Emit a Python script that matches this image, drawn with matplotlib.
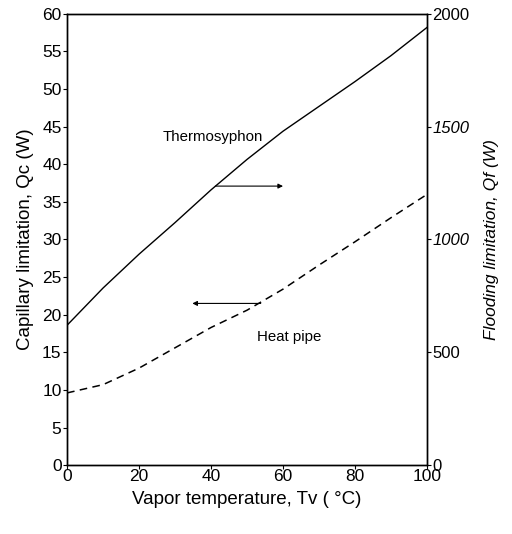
import matplotlib
matplotlib.use("Agg")
import matplotlib.pyplot as plt

plt.rcParams['font.family'] = ['Liberation Sans', 'DejaVu Sans']

# Data
temperature = [0, 10, 20, 30, 40, 50, 60, 70, 80, 90, 100]
heat_pipe_qc = [9.6, 10.7, 12.9, 15.6, 18.3, 20.6, 23.4, 26.6, 29.7, 32.9, 36.0]
thermosyphon_qf = [620, 785, 935, 1075, 1220, 1355, 1480, 1590, 1700, 1815, 1940]

x_ticks = [0, 20, 40, 60, 80, 100]
left_ticks = [0, 5, 10, 15, 20, 25, 30, 35, 40, 45, 50, 55, 60]
right_ticks = [0, 500, 1000, 1500, 2000]
right_italic = [False, False, True, True, False]

fig = plt.figure(figsize=(5.12, 5.34), dpi=100)
ax = fig.add_axes([0.131, 0.129, 0.703, 0.845])
ax2 = ax.twinx()

ax.plot(temperature, heat_pipe_qc, color='black', lw=1.1, ls=(0, (5, 3.5)))
ax2.plot(temperature, thermosyphon_qf, color='black', lw=1.0)

ax.set_xlim(0, 100)
ax.set_ylim(0, 60)
ax2.set_ylim(0, 2000)

ax.set_xticks(x_ticks)
ax.set_yticks(left_ticks)
ax2.set_yticks(right_ticks)

ax.tick_params(axis='both', direction='out', length=3, width=0.8, labelsize=12.5, pad=1)
ax.tick_params(axis='x', pad=0)
ax2.tick_params(axis='y', direction='out', length=3, width=0.8, labelsize=12, pad=1)
for lbl, it in zip(ax2.get_yticklabels(), right_italic):
    if it:
        lbl.set_style('italic')

for a in (ax, ax2):
    for s in a.spines.values():
        s.set_linewidth(1.0)

ax.set_xlabel('Vapor temperature, Tv ( °C)', fontsize=13.5, labelpad=5)
ax.set_ylabel('Capillary limitation, Qc (W)', fontsize=13.5, labelpad=6)
ax2.set_ylabel('Flooding limitation, Qf (W)', fontsize=12.5, style='italic',
               rotation=90, labelpad=10)

ax.text(40.5, 43.6, 'Thermosyphon', fontsize=10.8, ha='center', va='center')
ax.text(61.8, 17.0, 'Heat pipe', fontsize=10.8, ha='center', va='center')

ax.annotate('', xy=(60, 37.1), xytext=(41.2, 37.1),
            arrowprops=dict(arrowstyle='-|>', color='black', lw=0.8,
                            mutation_scale=7, shrinkA=0, shrinkB=0))
ax.annotate('', xy=(34.8, 21.5), xytext=(53.8, 21.5),
            arrowprops=dict(arrowstyle='-|>', color='black', lw=0.8,
                            mutation_scale=7, shrinkA=0, shrinkB=0))

fig.savefig('out.png', dpi=100)
